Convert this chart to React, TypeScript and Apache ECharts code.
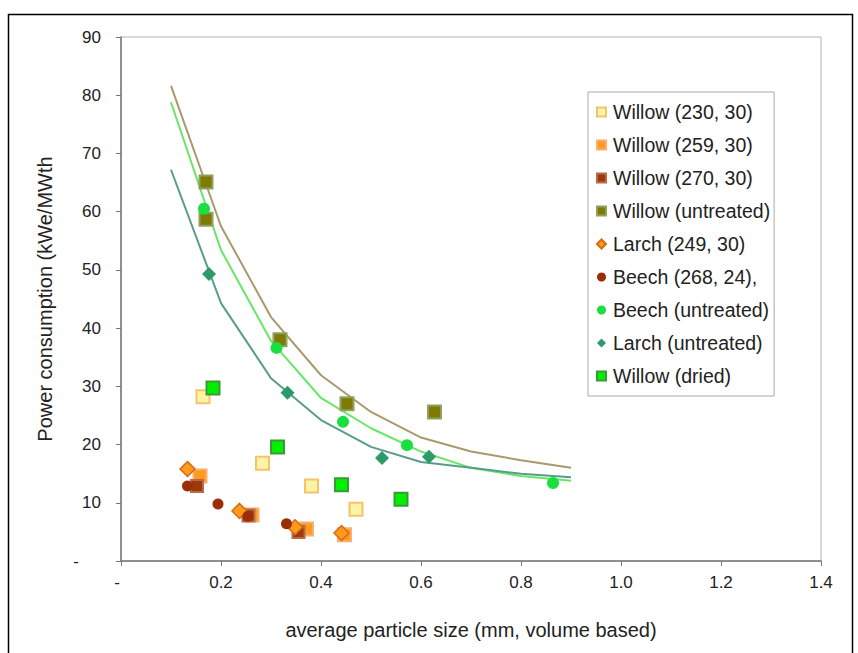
import React, { useEffect, useRef } from "react";
import * as echarts from "echarts";

const xTicks = [0, 0.2, 0.4, 0.6, 0.8, 1.0, 1.2, 1.4];
const yTicks = [0, 10, 20, 30, 40, 50, 60, 70, 80, 90];

const willow230: [number, number][] = [[0.164, 28.2], [0.283, 16.8], [0.381, 12.9], [0.47, 8.9]];
const willow259: [number, number][] = [[0.158, 14.6], [0.262, 7.9], [0.371, 5.5], [0.447, 4.5]];
const willow270: [number, number][] = [[0.152, 12.9], [0.255, 7.8], [0.355, 5.0]];
const willowUntreated: [number, number][] = [[0.17, 65.1], [0.17, 58.7], [0.318, 38.0], [0.452, 27.0], [0.627, 25.6]];
const larch249: [number, number][] = [[0.133, 15.8], [0.237, 8.6], [0.348, 5.8], [0.441, 4.8]];
const beech268: [number, number][] = [[0.133, 12.9], [0.194, 9.8], [0.254, 7.7], [0.331, 6.4]];
const beechUntreated: [number, number][] = [[0.166, 60.5], [0.311, 36.6], [0.444, 23.9], [0.572, 19.9], [0.864, 13.4]];
const larchUntreated: [number, number][] = [[0.176, 49.3], [0.333, 28.9], [0.522, 17.7], [0.616, 17.9]];
const willowDried: [number, number][] = [[0.184, 29.7], [0.313, 19.6], [0.441, 13.1], [0.56, 10.6]];

const fitX = [0.1, 0.2, 0.3, 0.4, 0.5, 0.6, 0.7, 0.8, 0.9];
const fitBrown = [81.6, 57.5, 41.9, 31.9, 25.6, 21.2, 18.8, 17.3, 16.0];
const fitGreen = [78.8, 53.4, 37.8, 28.0, 22.8, 18.8, 16.0, 14.6, 13.8];
const fitTeal = [67.2, 44.3, 31.4, 24.2, 19.6, 17.0, 16.0, 15.0, 14.4];

const FONT = "'Liberation Sans', Arial, sans-serif";

export default function App() {
  const ref = useRef<HTMLDivElement>(null);
  useEffect(() => {
    if (!ref.current) return;
    const chart = echarts.init(ref.current, undefined, { renderer: "svg" });
    const scatter = (name: string, data: [number, number][], symbol: string, size: number, fill: string, border: string, bw = 2) => ({
      name,
      type: "scatter",
      data,
      symbol,
      symbolSize: size,
      itemStyle: { color: fill, borderColor: border, borderWidth: bw, opacity: 1 },
      z: 3,
    });
    const line = (name: string, ys: number[], color: string) => ({
      name,
      type: "line",
      data: fitX.map((x, i) => [x, ys[i]]),
      symbol: "none",
      lineStyle: { color, width: 2 },
      z: 2,
    });
    const legendNames = [
      "Willow (230, 30)",
      "Willow (259, 30)",
      "Willow (270, 30)",
      "Willow (untreated)",
      "Larch (249, 30)",
      "Beech (268, 24),",
      "Beech (untreated)",
      "Larch (untreated)",
      "Willow (dried)",
    ];
    chart.setOption({
      animation: false,
      backgroundColor: "#fff",
      textStyle: { fontFamily: FONT },
      grid: { left: 121, right: 37, top: 37, bottom: 92, show: true, borderColor: "#b0b0b0", borderWidth: 1 },
      graphic: [
        {
          type: "rect",
          shape: { x: 8.5, y: 14.5, width: 844, height: 700 },
          style: { fill: "none", stroke: "#000", lineWidth: 1.5 },
          silent: true,
          z: -1,
        },
      ],
      legend: {
        data: legendNames,
        orient: "vertical",
        left: 588,
        top: 92,
        padding: [10, 4, 10, 8],
        itemWidth: 9,
        itemHeight: 9,
        itemGap: 13,
        backgroundColor: "#fff",
        borderColor: "#aaa",
        borderWidth: 1,
        borderRadius: 0,
        textStyle: { fontSize: 19.5, color: "#222", fontFamily: FONT, lineHeight: 20, padding: [0, 0, 0, 2] },
      },
      xAxis: {
        type: "value",
        min: 0,
        max: 1.4,
        interval: 0.2,
        name: "average particle size (mm, volume based)",
        nameLocation: "middle",
        nameGap: 59,
        nameTextStyle: { fontSize: 20, color: "#222", fontFamily: FONT },
        axisLine: { show: true, lineStyle: { color: "#777", width: 1.5 } },
        axisTick: { show: true, length: 5, lineStyle: { color: "#777" } },
        splitLine: { show: false },
        axisLabel: {
          fontSize: 17,
          color: "#222",
          margin: 13,
          fontFamily: FONT,
          formatter: (v: number) => (Math.abs(v) < 1e-9 ? "{d|-}" : v.toFixed(1)),
          rich: { d: { fontSize: 17, color: "#222", padding: [0, 8, 0, 0] } },
        },
      },
      yAxis: {
        type: "value",
        min: 0,
        max: 90,
        interval: 10,
        name: "Power consumption (kWe/MWth",
        nameLocation: "middle",
        nameGap: 66,
        nameTextStyle: { fontSize: 20, color: "#222", fontFamily: FONT },
        axisLine: { show: true, lineStyle: { color: "#777", width: 1.5 } },
        axisTick: { show: true, length: 5, lineStyle: { color: "#777" } },
        splitLine: { show: false },
        axisLabel: {
          fontSize: 17,
          color: "#222",
          margin: 20,
          fontFamily: FONT,
          formatter: (v: number) => (v === 0 ? "{d|-}" : String(v)),
          rich: { d: { fontSize: 17, color: "#222", padding: [0, 22, 0, 0] } },
        },
      },
      series: [
        line("fitBrown", fitBrown, "#a89a6c"),
        line("fitGreen", fitGreen, "#66e866"),
        line("fitTeal", fitTeal, "#5a9c8a"),
        scatter(legendNames[0], willow230, "rect", 13, "#fff3a8", "#f5c46a"),
        scatter(legendNames[1], willow259, "rect", 13, "#ff9a1e", "#f8b070"),
        scatter(legendNames[2], willow270, "rect", 12, "#9c3a0a", "#b86a4a"),
        scatter(legendNames[3], willowUntreated, "rect", 13, "#7f7a00", "#8fa060"),
        scatter(legendNames[4], larch249, "diamond", 15, "#ff9a1e", "#d86a10", 1.5),
        scatter(legendNames[5], beech268, "circle", 11, "#9a2e06", "#9a2e06", 0),
        scatter(legendNames[6], beechUntreated, "circle", 12, "#18e040", "#18e040", 0),
        scatter(legendNames[7], larchUntreated, "diamond", 14, "#2e9a6a", "#2e9a6a", 0),
        scatter(legendNames[8], willowDried, "rect", 13, "#00f000", "#3a9a3a"),
      ],
    });
    return () => chart.dispose();
  }, []);
  return <div ref={ref} style={{ position: "fixed", left: 0, top: 0, width: 858, height: 653 }} />;
}
